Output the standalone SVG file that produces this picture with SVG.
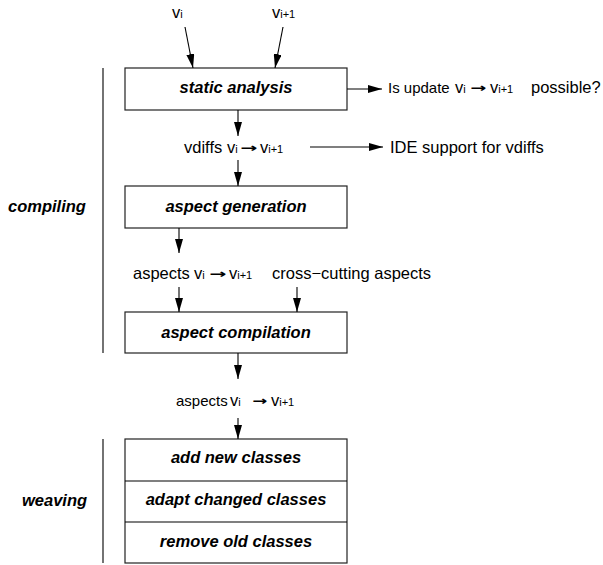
<svg xmlns="http://www.w3.org/2000/svg" width="603" height="565" viewBox="0 0 603 565">
<defs>
<marker id="ah" markerWidth="14" markerHeight="8" refX="14" refY="4" orient="auto" markerUnits="userSpaceOnUse">
<path d="M0,0 L14,4 L0,8 z" fill="#000"/>
</marker>
<style>
text{font-family:"Liberation Sans",Arial,Helvetica,sans-serif;font-size:16.5px;fill:#000}
.b{font-weight:bold;font-style:italic;text-anchor:middle}
.bl{font-weight:bold;font-style:italic}
.s{font-size:11px}
.m{font-size:15px}
.ar{font-family:"DejaVu Sans",sans-serif;font-size:12px;font-weight:bold}
.box{fill:#fff;stroke:#222;stroke-width:1.2}
.ln{stroke:#000;stroke-width:1.1;fill:none}
.c{stroke:#000;stroke-width:1.1;fill:none;marker-end:url(#ah)}
</style>
</defs>
<rect width="603" height="565" fill="#fff"/>

<g id="inputs">
<text x="172" y="18">v<tspan class="s">i</tspan></text>
<text x="272" y="18">v<tspan class="s">i+1</tspan></text>
</g>

<g id="static-analysis">
<rect class="box" x="125" y="68" width="222" height="42"/>
<text class="b" x="236" y="93">static analysis</text>
</g>

<g id="update-possible">
<text class="m" x="388" y="93">Is update</text>
<text x="455" y="93">v<tspan class="s">i</tspan></text>
<text class="ar" x="470" y="92" textLength="16" lengthAdjust="spacingAndGlyphs">→</text>
<text x="490" y="93">v<tspan class="s">i+1</tspan></text>
<text x="531" y="93">possible?</text>
</g>

<g id="vdiffs">
<text x="184" y="153">vdiffs</text>
<text x="227" y="153">v<tspan class="s">i</tspan></text>
<text class="ar" x="240" y="152" textLength="17" lengthAdjust="spacingAndGlyphs">→</text>
<text x="260" y="153">v<tspan class="s">i+1</tspan></text>
</g>

<g id="ide-support">
<text x="390" y="153">IDE support for vdiffs</text>
</g>

<g id="aspect-generation">
<rect class="box" x="125" y="186" width="222" height="42"/>
<text class="b" x="236" y="212">aspect generation</text>
</g>

<g id="aspects-label">
<text x="133" y="279">aspects</text>
<text x="194" y="279">v<tspan class="s">i</tspan></text>
<text class="ar" x="209" y="278" textLength="17" lengthAdjust="spacingAndGlyphs">→</text>
<text x="229" y="279">v<tspan class="s">i+1</tspan></text>
</g>

<g id="cross-cutting">
<text x="272" y="279">cross−cutting aspects</text>
</g>

<g id="aspect-compilation">
<rect class="box" x="125" y="312" width="222" height="41"/>
<text class="b" x="236" y="338">aspect compilation</text>
</g>

<g id="aspects-out">
<text class="m" x="176" y="406">aspects</text>
<text x="230" y="406">v<tspan class="s">i</tspan></text>
<text class="ar" x="252" y="405" textLength="15" lengthAdjust="spacingAndGlyphs">→</text>
<text x="271" y="406">v<tspan class="s">i+1</tspan></text>
</g>

<g id="weaving-stack">
<rect class="box" x="125" y="439" width="222" height="124"/>
<line class="ln" x1="125" y1="481" x2="347" y2="481"/>
<line class="ln" x1="125" y1="522" x2="347" y2="522"/>
<text class="b" x="236" y="463">add new classes</text>
<text class="b" x="236" y="505">adapt changed classes</text>
<text class="b" x="236" y="547">remove old classes</text>
</g>

<g id="compiling">
<line class="ln" x1="103" y1="68" x2="103" y2="353"/>
<text class="bl" x="8" y="212">compiling</text>
</g>

<g id="weaving">
<line class="ln" x1="103" y1="439" x2="103" y2="563"/>
<text class="bl" x="22" y="506">weaving</text>
</g>

<g id="connectors">
<line class="c" x1="185" y1="27" x2="193" y2="68"/>
<line class="c" x1="283" y1="27" x2="275" y2="68"/>
<line class="c" x1="347" y1="89" x2="382" y2="89"/>
<line class="c" x1="238" y1="110" x2="238" y2="136"/>
<line class="c" x1="310" y1="147" x2="383" y2="147"/>
<line class="c" x1="238" y1="160" x2="238" y2="186"/>
<line class="c" x1="179" y1="228" x2="179" y2="253"/>
<line class="c" x1="179" y1="287" x2="179" y2="312"/>
<line class="c" x1="297" y1="287" x2="297" y2="312"/>
<line class="c" x1="238" y1="353" x2="238" y2="379"/>
<line class="c" x1="238" y1="418" x2="238" y2="439"/>
</g>
</svg>
